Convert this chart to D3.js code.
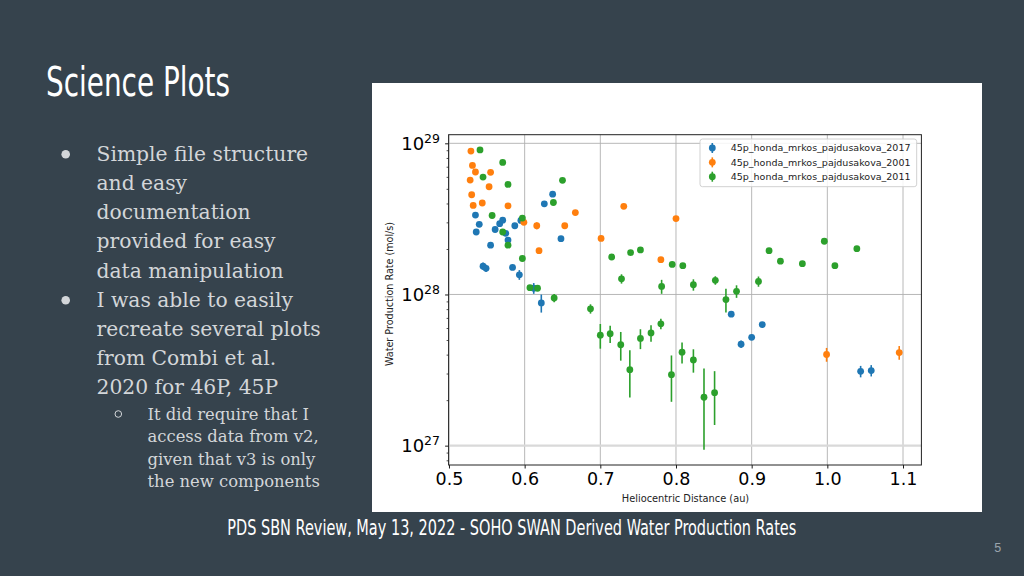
<!DOCTYPE html>
<html><head><meta charset="utf-8">
<script src="https://cdn.jsdelivr.net/npm/d3@7/dist/d3.min.js"></script>
<style>html,body{margin:0;padding:0;background:#36434d;overflow:hidden;} svg{display:block;}</style>
</head><body><svg id="c" width="1024" height="576"></svg>
<script>
// ---------- data ----------
const seriesNames = ["45p_honda_mrkos_pajdusakova_2017","45p_honda_mrkos_pajdusakova_2001","45p_honda_mrkos_pajdusakova_2011"];
const seriesColors = ["#1f77b4","#ff7f0e","#2ca02c"];

const x2017 = [0.535,0.540,0.536,0.545,0.549,0.555,0.561,0.567,0.571,0.575,0.578,0.584,0.587,0.593,0.595,0.612,0.622,0.626,0.637,0.648,0.873,0.886,0.900,0.914,1.044,1.058];
const q2017 = [3.35e28,2.91e28,2.59e28,1.54e28,1.49e28,2.12e28,2.69e28,2.94e28,3.10e28,2.54e28,2.29e28,1.51e28,2.85e28,1.35e28,3.09e28,1.10e28,8.79e27,3.98e28,4.61e28,2.34e28,7.41e27,4.69e27,5.21e27,6.32e27,3.10e27,3.14e27];
const e2017 = [0.8e27,0.8e27,0.8e27,0.9e27,0.8e27,0.6e27,0.7e27,0.7e27,0.8e27,0.7e27,0.8e27,0.6e27,0.8e27,1.0e27,0.8e27,0.9e27,1.2e27,0.9e27,0.9e27,0.6e27,0.2e27,0.27e27,0.2e27,0.2e27,0.27e27,0.27e27];

const x2001 = [0.529,0.531,0.535,0.528,0.530,0.532,0.544,0.555,0.553,0.578,0.599,0.616,0.619,0.653,0.667,0.701,0.731,0.780,0.800,0.999,1.095];
const q2001 = [8.89e28,7.14e28,6.46e28,5.71e28,4.57e28,3.88e28,4.03e28,6.43e28,5.16e28,3.86e28,3.00e28,2.85e28,1.95e28,2.85e28,3.48e28,2.35e28,3.83e28,1.70e28,3.18e28,4.01e27,4.13e27];
const e2001 = [2e27,1.5e27,1.5e27,1.3e27,1e27,1e27,1e27,1.5e27,1.2e27,1e27,0.8e27,1.5e27,0.6e27,0.8e27,0.8e27,0.6e27,0.8e27,0.5e27,0.8e27,0.42e27,0.43e27];

const x2011 = [0.541,0.545,0.557,0.571,0.571,0.578,0.578,0.597,0.597,0.607,0.617,0.638,0.639,0.650,0.687,0.700,0.713,0.715,0.727,0.728,0.739,0.740,0.753,0.753,0.767,0.780,0.781,0.794,0.795,0.808,0.809,0.823,0.823,0.837,0.851,0.852,0.866,0.880,0.909,0.923,0.938,0.967,0.996,1.010,1.039];
const q2011 = [9.04e28,5.98e28,3.33e28,7.48e28,2.59e28,5.35e28,2.12e28,3.20e28,1.73e28,1.11e28,1.10e28,4.06e28,9.48e27,5.69e28,8.04e27,5.38e27,5.50e27,1.77e28,4.65e27,1.27e28,3.18e27,1.89e28,1.97e28,5.12e27,5.57e27,6.40e27,1.13e28,2.95e27,1.58e28,4.15e27,1.55e28,1.16e28,3.69e27,2.09e27,2.24e27,1.24e28,9.25e27,1.05e28,1.22e28,1.95e28,1.66e28,1.60e28,2.25e28,1.55e28,2.01e28];
const e2011 = [2e27,1.5e27,0.8e27,1.5e27,0.6e27,1.2e27,0.5e27,0.8e27,0.5e27,0.4e27,0.4e27,1e27,0.6e27,1.2e27,0.57e27,1.0e27,0.72e27,0.5e27,1.0e27,0.9e27,1.1e27,0.5e27,0.5e27,0.77e27,0.7e27,0.52e27,1.2e27,1.0e27,0.4e27,0.66e27,0.4e27,1.0e27,0.65e27,1.15e27,0.87e27,0.8e27,1.65e27,1.0e27,0.95e27,0.5e27,0.4e27,0.4e27,0.5e27,0.4e27,0.5e27];

const xTicks = [0.5,0.6,0.7,0.8,0.9,1.0,1.1];
const xTickLabels = ["0.5","0.6","0.7","0.8","0.9","1.0","1.1"];
const yTickExps = [27,28,29];
const xLabel = "Heliocentric Distance (au)";
const yLabel = "Water Production Rate (mol/s)";

const slideTitle = "Science Plots";
const bullet1 = ["Simple file structure","and easy","documentation","provided for easy","data manipulation"];
const bullet2 = ["I was able to easily","recreate several plots","from Combi et al.","2020 for 46P, 45P"];
const subBullet = ["It did require that I","access data from v2,","given that v3 is only","the new components"];
const footer = "PDS SBN Review, May 13, 2022 - SOHO SWAN Derived Water Production Rates";
const pageNum = "5";

// ---------- slide ----------
const svg = d3.select("#c");
svg.append("rect").attr("width",1024).attr("height",576).attr("fill","#36434d");

svg.append("text").attr("x",46).attr("y",95.7)
  .attr("font-family","'Liberation Sans Narrow','DejaVu Sans Condensed','Liberation Sans',sans-serif")
  .attr("font-size",41).attr("fill","#ffffff")
  .attr("textLength",184).attr("lengthAdjust","spacingAndGlyphs")
  .text(slideTitle);

const txtCol = "#d3d6d9";
const serif = "'DejaVu Serif',serif";
const lh = 29.2;
bullet1.concat(bullet2).forEach((s,i)=>{
  svg.append("text").attr("x",96.5).attr("y",160.7 + i*lh)
    .attr("font-family",serif).attr("font-size",20.3).attr("fill",txtCol).text(s);
});
svg.append("circle").attr("cx",65.7).attr("cy",154.3).attr("r",4.3).attr("fill",txtCol);
svg.append("circle").attr("cx",65.7).attr("cy",154.3+5*lh).attr("r",4.3).attr("fill",txtCol);
subBullet.forEach((s,i)=>{
  svg.append("text").attr("x",147.5).attr("y",420 + i*22.3)
    .attr("font-family",serif).attr("font-size",16.4).attr("fill",txtCol).text(s);
});
svg.append("circle").attr("cx",118.3).attr("cy",414).attr("r",3.3).attr("fill","none").attr("stroke",txtCol).attr("stroke-width",1);

svg.append("text").attr("x",227.3).attr("y",535)
  .attr("font-family","'Liberation Sans Narrow','DejaVu Sans Condensed','Liberation Sans',sans-serif")
  .attr("font-size",20.5).attr("fill","#ffffff")
  .attr("textLength",569).attr("lengthAdjust","spacingAndGlyphs")
  .text(footer);
svg.append("text").attr("x",997.7).attr("y",552)
  .attr("font-family","'Liberation Sans Narrow','Liberation Sans',sans-serif")
  .attr("font-size",12.5).attr("fill","#9aa4ac").attr("text-anchor","middle").text(pageNum);

// ---------- chart image ----------
svg.append("rect").attr("x",372).attr("y",83).attr("width",610).attr("height",429).attr("fill","#ffffff");

const L=448.6, R=921.4, T=134.7, B=465;
const x = d3.scaleLinear().domain([0.4995,1.1243]).range([L,R]);
const y = d3.scaleLog().domain([Math.pow(10,26.872),Math.pow(10,29.057)]).range([B,T]);
const g = svg.append("g");

// grid
g.selectAll(".vg").data(xTicks).join("line")
  .attr("x1",d=>x(d)).attr("x2",d=>x(d)).attr("y1",T).attr("y2",B)
  .attr("stroke","#b0b0b0").attr("stroke-width",0.9);
g.selectAll(".hg").data(yTickExps).join("line")
  .attr("x1",L).attr("x2",R).attr("y1",d=>y(Math.pow(10,d))).attr("y2",d=>y(Math.pow(10,d)))
  .attr("stroke",d=>d===27?"#d9d9d9":"#b0b0b0").attr("stroke-width",d=>d===27?2.2:0.9);

// data
const series = [
  {x:x2017,q:q2017,e:e2017},
  {x:x2001,q:q2001,e:e2001},
  {x:x2011,q:q2011,e:e2011}
];
series.forEach((s,si)=>{
  const pts = s.x.map((xv,i)=>({x:xv,q:s.q[i],e:s.e[i]}));
  const sg = g.append("g");
  sg.selectAll("line").data(pts).join("line")
    .attr("x1",d=>x(d.x)).attr("x2",d=>x(d.x))
    .attr("y1",d=>y(d.q+d.e)).attr("y2",d=>y(Math.max(d.q-d.e,1e26)))
    .attr("stroke",seriesColors[si]).attr("stroke-width",1.6);
  sg.selectAll("circle").data(pts).join("circle")
    .attr("cx",d=>x(d.x)).attr("cy",d=>y(d.q)).attr("r",3.4)
    .attr("fill",seriesColors[si]);
});

// axes
const xAxis = d3.axisBottom(x).tickValues(xTicks).tickFormat((d,i)=>xTickLabels[i]).tickSize(3.5).tickPadding(4.5);
const gx = g.append("g").attr("transform",`translate(0,${B})`).call(xAxis);
gx.select(".domain").remove();
gx.selectAll("text").attr("font-family","'DejaVu Sans',sans-serif").attr("font-size",17.5).attr("fill","#000");
gx.selectAll("line").attr("stroke","#000").attr("stroke-width",0.9);

const minor = [];
for (let e=26; e<=29; e++) for (let k=2;k<=9;k++){ const v=k*Math.pow(10,e); if (v>y.domain()[0] && v<y.domain()[1]) minor.push(v); }
const gym = g.append("g").attr("transform",`translate(${L},0)`).call(d3.axisLeft(y).tickValues(minor).tickFormat("").tickSize(2));
gym.select(".domain").remove();
gym.selectAll("line").attr("stroke","#000").attr("stroke-width",0.7);

const gy = g.append("g").attr("transform",`translate(${L},0)`)
  .call(d3.axisLeft(y).tickValues(yTickExps.map(e=>Math.pow(10,e))).tickFormat("").tickSize(3.5).tickPadding(5));
gy.select(".domain").remove();
gy.selectAll("line").attr("stroke","#000").attr("stroke-width",0.9);
gy.selectAll(".tick").each(function(d,i){
  const t = d3.select(this).append("text").attr("x",-8.6).attr("dy","0.32em")
    .attr("text-anchor","end").attr("font-family","'DejaVu Sans',sans-serif").attr("font-size",18).attr("fill","#000");
  t.append("tspan").text("10");
  t.append("tspan").attr("font-size",12.5).attr("dy",-6.8).text(String(yTickExps[i]));
});

// frame
g.append("rect").attr("x",L).attr("y",T).attr("width",R-L).attr("height",B-T)
  .attr("fill","none").attr("stroke","#222").attr("stroke-width",1);

// axis labels
g.append("text").attr("x",685.5).attr("y",502).attr("text-anchor","middle")
  .attr("font-family","'DejaVu Sans',sans-serif").attr("font-size",9.8).attr("fill","#222").text(xLabel);
g.append("text").attr("transform","translate(392.5,294) rotate(-90)").attr("text-anchor","middle")
  .attr("font-family","'DejaVu Sans',sans-serif").attr("font-size",9.6).attr("fill","#222").text(yLabel);

// legend
const lg = g.append("g");
lg.append("rect").attr("x",700).attr("y",139).attr("width",216.7).attr("height",47.7).attr("rx",2.5)
  .attr("fill","#fff").attr("fill-opacity",0.85).attr("stroke","#cccccc").attr("stroke-width",0.9);
seriesNames.forEach((n,i)=>{
  const cy = 148 + i*14.35;
  lg.append("line").attr("x1",712.3).attr("x2",712.3).attr("y1",cy-5).attr("y2",cy+5)
    .attr("stroke",seriesColors[i]).attr("stroke-width",1.6);
  lg.append("circle").attr("cx",712.3).attr("cy",cy).attr("r",3.4).attr("fill",seriesColors[i]);
  lg.append("text").attr("x",730.7).attr("y",cy).attr("dy","0.35em")
    .attr("font-family","'DejaVu Sans',sans-serif").attr("font-size",9.5).attr("fill","#222").text(n);
});
</script>
</body></html>
